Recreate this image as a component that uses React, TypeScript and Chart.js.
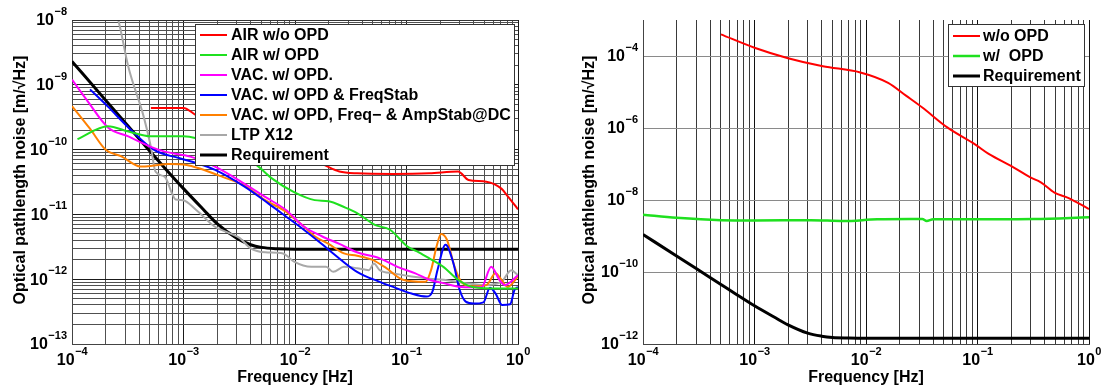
import React, { useEffect, useRef } from 'react';
import { Chart, registerables } from 'chart.js';

Chart.register(...registerables);

const FONT = '"Liberation Sans", Arial, Helvetica, sans-serif';

// ---------- Left panel data ----------
const airNoOpdF = [5.1e-4, 1.0e-3, 1.3e-3, 3.2e-3, 1.0e-2, 1.82e-2, 2.5e-2, 3.6e-2, 7.6e-2, 0.16, 0.29, 0.36, 0.52, 0.71, 0.81, 1.0];
const airNoOpdV = [4.4e-10, 4.4e-10, 3.4e-10, 1.8e-10, 8.9e-11, 5.8e-11, 4.6e-11, 4.3e-11, 4.2e-11, 4.3e-11, 4.6e-11, 3.4e-11, 3.2e-11, 2.5e-11, 1.9e-11, 1.2e-11];

const airOpdF = [1.12e-4, 2.1e-4, 3.2e-4, 5.1e-4, 1.0e-3, 1.3e-3, 2.5e-3, 4.5e-3, 6.2e-3, 9.8e-3, 1.5e-2, 2.0e-2, 2.75e-2, 3.6e-2, 5.2e-2, 7.1e-2, 0.102, 0.129, 0.16, 0.214, 0.29, 0.39, 0.71, 1.0];
const airOpdV = [1.45e-10, 2.3e-10, 1.9e-10, 1.6e-10, 1.6e-10, 1.5e-10, 1.0e-10, 5.8e-11, 3.6e-11, 2.2e-11, 1.66e-11, 1.6e-11, 1.3e-11, 1.05e-11, 6.9e-12, 5.8e-12, 3.2e-12, 2.6e-12, 2.1e-12, 1.55e-12, 9.8e-13, 7.6e-13, 7.2e-13, 7.2e-13];

const vacOpdF = [1.0e-4, 1.35e-4, 2.1e-4, 3.2e-4, 5.1e-4, 6.8e-4, 1.15e-3, 1.9e-3, 3.5e-3, 5.4e-3, 8.3e-3, 1.2e-2, 1.74e-2, 2.5e-2, 3.6e-2, 5.75e-2, 8.3e-2, 0.12, 0.16, 0.214, 0.31, 0.47, 0.575, 0.68, 0.76, 1.0];
const vacOpdV = [1.2e-9, 5.9e-10, 2.2e-10, 1.6e-10, 1.1e-10, 9.3e-11, 7.8e-11, 5.5e-11, 3.0e-11, 1.86e-11, 1.17e-11, 6.5e-12, 4.6e-12, 3.5e-12, 2.6e-12, 2.1e-12, 1.55e-12, 1.23e-12, 9.8e-13, 8.7e-13, 7.6e-13, 7.5e-13, 1.55e-12, 9.8e-13, 8.1e-13, 1.15e-12];

const vacFreqF = [1.45e-4, 2.1e-4, 3.2e-4, 5.5e-4, 9.1e-4, 1.3e-3, 1.9e-3, 3.5e-3, 5.75e-3, 8.3e-3, 1.2e-2, 1.74e-2, 2.2e-2, 3.6e-2, 5.75e-2, 7.6e-2, 0.111, 0.151, 0.17, 0.19, 0.224, 0.263, 0.30, 0.34, 0.40, 0.49, 0.56, 0.63, 0.72, 0.85, 0.93, 1.0];
const vacFreqV = [8.5e-10, 4.6e-10, 2.2e-10, 9.8e-11, 7.4e-11, 6.2e-11, 4.9e-11, 2.7e-11, 1.48e-11, 9.3e-12, 5.8e-12, 3.5e-12, 2.5e-12, 1.3e-12, 9.1e-13, 7.6e-13, 6.0e-13, 5.4e-13, 6.3e-13, 1.4e-12, 3.4e-12, 1.78e-12, 6.8e-13, 4.5e-13, 4.2e-13, 4.4e-13, 7.4e-13, 6.0e-13, 4.0e-13, 4.1e-13, 6.8e-13, 7.6e-13];

const vacAmpF = [1.0e-4, 1.45e-4, 2.0e-4, 2.8e-4, 4.1e-4, 5.1e-4, 7.4e-4, 1.07e-3, 1.4e-3, 2.24e-3, 3.5e-3, 5.4e-3, 8.3e-3, 9.8e-3, 1.2e-2, 1.5e-2, 2.0e-2, 2.75e-2, 3.6e-2, 4.9e-2, 6.6e-2, 9.3e-2, 0.148, 0.166, 0.186, 0.204, 0.23, 0.27, 0.31, 0.39, 0.52, 0.63, 0.71, 0.81, 1.0];
const vacAmpV = [4.7e-10, 2.1e-10, 1.0e-10, 7.8e-11, 5.5e-11, 5.6e-11, 6.0e-11, 5.8e-11, 5.1e-11, 3.8e-11, 2.8e-11, 1.66e-11, 1.1e-11, 8.7e-12, 6.5e-12, 4.6e-12, 3.5e-12, 2.5e-12, 2.3e-12, 2.0e-12, 1.48e-12, 9.8e-13, 9.1e-13, 1.38e-12, 3.2e-12, 5.0e-12, 4.1e-12, 1.55e-12, 9.1e-13, 7.8e-13, 8.1e-13, 1.23e-12, 9.8e-13, 7.6e-13, 1.1e-12];

const ltpF = [2.24e-4, 2.6e-4, 3.2e-4, 4.4e-4, 5.1e-4, 5.6e-4, 6.8e-4, 7.9e-4, 8.5e-4, 9.9e-4, 1.3e-3, 1.9e-3, 2.6e-3, 3.2e-3, 4.0e-3, 5.4e-3, 7.8e-3, 9.8e-3, 1.4e-2, 1.9e-2, 2.2e-2, 2.75e-2, 3.6e-2, 4.6e-2, 5.1e-2, 5.75e-2, 7.6e-2, 0.111, 0.16, 0.214, 0.34, 0.49, 0.71, 0.87, 1.0];
const ltpV = [2.0e-8, 1.0e-8, 1.9e-9, 3.2e-10, 1.1e-10, 4.6e-11, 3.8e-11, 2.1e-11, 1.7e-11, 1.66e-11, 1.17e-11, 6.5e-12, 5.1e-12, 4.3e-12, 3.0e-12, 2.6e-12, 2.5e-12, 1.86e-12, 1.55e-12, 1.55e-12, 1.3e-12, 1.55e-12, 1.48e-12, 1.38e-12, 1.74e-12, 1.38e-12, 1.23e-12, 1.1e-12, 1.02e-12, 9.8e-13, 8.7e-13, 8.1e-13, 9.1e-13, 1.38e-12, 1.15e-12];

const reqLeftF = [1e-4, 2e-4, 3e-4, 5e-4, 7e-4, 1e-3, 1.5e-3, 2e-3, 3e-3, 4e-3, 5e-3, 7e-3, 1e-2, 1];
const reqLeftV = [2.3e-9, 5.8e-10, 2.6e-10, 9.4e-11, 4.9e-11, 2.5e-11, 1.2e-11, 7.2e-12, 4.3e-12, 3.4e-12, 3.1e-12, 2.95e-12, 2.9e-12, 2.9e-12];

// ---------- Right panel data ----------
const noOpdF = [5.0e-4, 1.0e-3, 2.0e-3, 4.1e-3, 8.9e-3, 1.58e-2, 2.3e-2, 3.2e-2, 5.4e-2, 9.5e-2, 0.126, 0.21, 0.295, 0.37, 0.49, 0.65, 1.0];
const noOpdV = [4.0e-4, 1.7e-4, 8.7e-5, 5.2e-5, 3.5e-5, 1.8e-5, 7.8e-6, 3.7e-6, 1.02e-6, 3.5e-7, 1.9e-7, 8.1e-8, 4.3e-8, 3.1e-8, 1.6e-8, 1.15e-8, 5.6e-9];

const withOpdF = [1e-4, 2.0e-4, 5e-4, 1e-3, 3.2e-3, 6.3e-3, 1.26e-2, 2.5e-2, 3.2e-2, 3.5e-2, 4.0e-2, 0.1, 0.32, 1.0];
const withOpdV = [3.9e-9, 3.2e-9, 2.75e-9, 2.7e-9, 2.75e-9, 2.6e-9, 2.9e-9, 2.95e-9, 2.95e-9, 2.6e-9, 2.9e-9, 2.9e-9, 2.95e-9, 3.3e-9];

const reqRightF = [1e-4, 2e-4, 3e-4, 5e-4, 7e-4, 1e-3, 1.5e-3, 2e-3, 3e-3, 4e-3, 5e-3, 7e-3, 1e-2, 1];
const reqRightV = [1.1e-9, 2.8e-10, 1.25e-10, 4.5e-11, 2.3e-11, 1.15e-11, 5.6e-12, 3.4e-12, 2.0e-12, 1.65e-12, 1.52e-12, 1.47e-12, 1.45e-12, 1.45e-12];

// tick exponents
const leftXExps = [-4, -3, -2, -1, 0];
const leftYExps = [-13, -12, -11, -10, -9, -8];
const rightXExps = [-4, -3, -2, -1, 0];
const rightYExps = [-12, -10, -8, -6, -4];

const xTitle = 'Frequency [Hz]';
const yTitle = 'Optical pathlength noise [m/\u221AHz]';

type Series = { label: string; f: number[]; v: number[]; color: string; width: number };

const leftSeries: Series[] = [
  { label: 'AIR w/o OPD', f: airNoOpdF, v: airNoOpdV, color: '#ff0000', width: 2 },
  { label: 'AIR w/ OPD', f: airOpdF, v: airOpdV, color: '#1fe01f', width: 2 },
  { label: 'VAC. w/ OPD.', f: vacOpdF, v: vacOpdV, color: '#ff00ff', width: 2 },
  { label: 'VAC. w/ OPD & FreqStab', f: vacFreqF, v: vacFreqV, color: '#0000ff', width: 2 },
  { label: 'VAC. w/ OPD, Freq\u2212 & AmpStab@DC', f: vacAmpF, v: vacAmpV, color: '#ff8000', width: 2 },
  { label: 'LTP X12', f: ltpF, v: ltpV, color: '#a8a8a8', width: 2 },
  { label: 'Requirement', f: reqLeftF, v: reqLeftV, color: '#000000', width: 3 },
];

const rightSeries: Series[] = [
  { label: 'w/o OPD', f: noOpdF, v: noOpdV, color: '#ff0000', width: 2 },
  { label: 'w/  OPD', f: withOpdF, v: withOpdV, color: '#1fe01f', width: 2.5 },
  { label: 'Requirement', f: reqRightF, v: reqRightV, color: '#000000', width: 3 },
];

function decadeTicks(lo: number, hi: number, minor: boolean): number[] {
  const out: number[] = [];
  for (let e = lo; e < hi; e++) {
    if (minor) {
      for (let m = 1; m < 10; m++) out.push(m * Math.pow(10, e));
    } else out.push(Math.pow(10, e));
  }
  out.push(Math.pow(10, hi));
  return out;
}

function isMajor(v: number | undefined) {
  if (!v) return false;
  const l = Math.log10(v);
  return Math.abs(l - Math.round(l)) < 1e-6;
}

type PanelSpec = {
  series: Series[];
  xRange: [number, number];
  yRange: [number, number];
  xTicks: number[];
  yTicks: number[];
  xExps: number[];
  yExps: number[];
  padding: { left: number; right: number; top: number; bottom: number };
  xGrid: (v: number) => string;
  yGrid: (v: number) => string;
  legend: { x: number; y: number; w: number; h: number; sampleX: number; sampleW: number; textX: number; rowY0: number; rowH: number };
  yTitleX: number;
  topBorder: boolean;
};

function supText(e: number) {
  return e === 0 ? '0' : (e < 0 ? '\u2212' : '') + Math.abs(e);
}

function makeDecorPlugin(spec: PanelSpec) {
  return {
    id: 'decor',
    afterDraw(chart: any) {
      const { ctx, chartArea } = chart;
      const xs = chart.scales.x;
      const ys = chart.scales.y;
      ctx.save();
      ctx.fillStyle = '#000';
      ctx.textBaseline = 'middle';
      ctx.textAlign = 'left';
      // x tick labels
      for (const e of spec.xExps) {
        const px = xs.getPixelForValue(Math.pow(10, e));
        const sup = supText(e);
        ctx.font = `bold 16px ${FONT}`;
        const wb = ctx.measureText('10').width;
        ctx.font = `bold 11px ${FONT}`;
        const ws = ctx.measureText(sup).width;
        const x0 = px - (wb + ws) / 2;
        ctx.font = `bold 16px ${FONT}`;
        ctx.fillText('10', x0, chartArea.bottom + 17);
        ctx.font = `bold 11px ${FONT}`;
        ctx.fillText(sup, x0 + wb + 0.5, chartArea.bottom + 8);
      }
      // y tick labels
      for (const e of spec.yExps) {
        const py = ys.getPixelForValue(Math.pow(10, e));
        const sup = supText(e);
        ctx.font = `bold 11px ${FONT}`;
        const ws = ctx.measureText(sup).width;
        ctx.font = `bold 16px ${FONT}`;
        const wb = ctx.measureText('10').width;
        const xEnd = chartArea.left - 5;
        ctx.fillText('10', xEnd - ws - 0.5 - wb, py + 1);
        ctx.font = `bold 11px ${FONT}`;
        ctx.fillText(sup, xEnd - ws, py - 8);
      }
      // titles
      ctx.font = `bold 16px ${FONT}`;
      ctx.textAlign = 'center';
      ctx.fillText(xTitle, (chartArea.left + chartArea.right) / 2, 378);
      ctx.save();
      ctx.translate(spec.yTitleX, (chartArea.top + chartArea.bottom) / 2 - 2);
      ctx.rotate(-Math.PI / 2);
      ctx.fillText(yTitle, 0, 0);
      ctx.restore();
      ctx.restore();
    },
    afterDatasetsDraw(chart: any) {
      const { ctx, chartArea } = chart;
      const L = spec.legend;
      ctx.save();
      if (spec.topBorder) {
        ctx.strokeStyle = '#333';
        ctx.lineWidth = 1;
        ctx.beginPath();
        ctx.moveTo(chartArea.left, chartArea.top + 0.5);
        ctx.lineTo(chartArea.right, chartArea.top + 0.5);
        ctx.stroke();
      }
      ctx.fillStyle = '#fff';
      ctx.fillRect(L.x, L.y, L.w, L.h);
      ctx.strokeStyle = '#333';
      ctx.lineWidth = 1;
      ctx.strokeRect(L.x + 0.5, L.y + 0.5, L.w - 1, L.h - 1);
      ctx.font = `bold 16px ${FONT}`;
      ctx.textBaseline = 'middle';
      ctx.textAlign = 'left';
      spec.series.forEach((s, i) => {
        const y = L.rowY0 + i * L.rowH;
        ctx.strokeStyle = s.color;
        ctx.lineWidth = s.width;
        ctx.beginPath();
        ctx.moveTo(L.sampleX, y);
        ctx.lineTo(L.sampleX + L.sampleW, y);
        ctx.stroke();
        ctx.fillStyle = '#000';
        ctx.fillText(s.label, L.textX, y + 1);
      });
      ctx.restore();
    },
  };
}

function Panel({ spec, left, width }: { spec: PanelSpec; left: number; width: number }) {
  const ref = useRef<HTMLCanvasElement>(null);
  useEffect(() => {
    const canvas = ref.current!;
    const chart = new Chart(canvas, {
      type: 'line',
      data: {
        datasets: spec.series.map((s) => ({
          label: s.label,
          data: s.f.map((x, i) => ({ x, y: s.v[i] })),
          borderColor: s.color,
          backgroundColor: s.color,
          borderWidth: s.width,
          pointRadius: 0,
          fill: false,
          cubicInterpolationMode: 'monotone' as const,
        })),
      },
      options: {
        animation: false,
        responsive: false,
        events: [],
        layout: { padding: spec.padding },
        plugins: { legend: { display: false }, tooltip: { enabled: false }, title: { display: false } },
        scales: {
          x: {
            type: 'logarithmic',
            min: spec.xRange[0],
            max: spec.xRange[1],
            afterBuildTicks: (s: any) => {
              s.ticks = spec.xTicks.map((value) => ({ value }));
            },
            ticks: { display: false },
            grid: {
              drawTicks: false,
              lineWidth: 1,
              color: (c: any) => spec.xGrid(c.tick ? c.tick.value : 0),
            },
            border: { display: true, color: '#444' },
          },
          y: {
            type: 'logarithmic',
            min: spec.yRange[0],
            max: spec.yRange[1],
            afterBuildTicks: (s: any) => {
              s.ticks = spec.yTicks.map((value) => ({ value }));
            },
            ticks: { display: false },
            grid: {
              drawTicks: false,
              lineWidth: 1,
              color: (c: any) => spec.yGrid(c.tick ? c.tick.value : 0),
            },
            border: { display: true, color: '#444' },
          },
        },
      } as any,
      plugins: [makeDecorPlugin(spec)],
    });
    return () => chart.destroy();
  }, []);
  return (
    <canvas
      ref={ref}
      width={width}
      height={392}
      style={{ position: 'absolute', left, top: 0, width, height: 392 }}
    />
  );
}

const leftSpec: PanelSpec = {
  series: leftSeries,
  xRange: [1e-4, 1],
  yRange: [1e-13, 1e-8],
  xTicks: decadeTicks(-4, 0, true),
  yTicks: decadeTicks(-13, -8, true),
  xExps: leftXExps,
  yExps: leftYExps,
  padding: { left: 72, right: 57, top: 20, bottom: 48 },
  xGrid: (v) => (isMajor(v) ? '#1a1a1a' : '#505050'),
  yGrid: (v) => (isMajor(v) ? '#1a1a1a' : '#505050'),
  legend: { x: 195, y: 24, w: 320, h: 142, sampleX: 200, sampleW: 27, textX: 231, rowY0: 35, rowH: 20 },
  yTitleX: 21,
  topBorder: true,
};

const rightSpec: PanelSpec = {
  series: rightSeries,
  xRange: [1e-4, 1],
  yRange: [1e-12, 1e-3],
  xTicks: decadeTicks(-4, 0, true),
  yTicks: rightYExps.map((e) => Math.pow(10, e)),
  xExps: rightXExps,
  yExps: rightYExps,
  padding: { left: 68, right: 13, top: 20, bottom: 48 },
  xGrid: (v) => (isMajor(v) ? '#111111' : '#3a3a3a'),
  yGrid: () => '#8a8a8a',
  legend: { x: 948 - 575, y: 24, w: 137, h: 63, sampleX: 953 - 575, sampleW: 27, textX: 983 - 575, rowY0: 36, rowH: 20 },
  yTitleX: 590 - 575,
  topBorder: false,
};

export default function App() {
  return (
    <div style={{ position: 'absolute', left: 0, top: 0, width: 1102, height: 392, background: '#fff' }}>
      <Panel spec={leftSpec} left={0} width={575} />
      <Panel spec={rightSpec} left={575} width={527} />
    </div>
  );
}
